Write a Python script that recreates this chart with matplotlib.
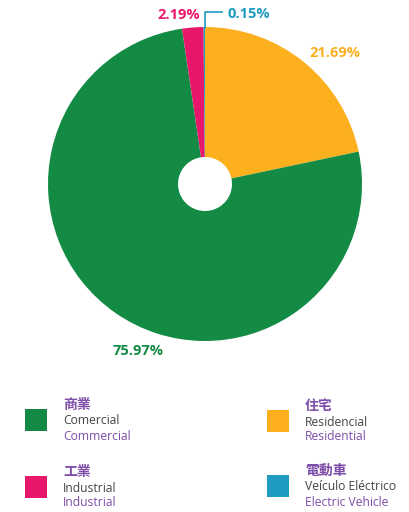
import matplotlib
matplotlib.use("Agg")
import matplotlib.pyplot as plt
from matplotlib.patches import Rectangle

# data (clockwise from 12 o'clock)
labels_zh = ["住宅", "商業", "工業", "電動車"]
labels_pt = ["Residencial", "Comercial", "Industrial", "Veículo Eléctrico"]
labels_en = ["Residential", "Commercial", "Industrial", "Electric Vehicle"]
shares = [21.69, 75.97, 2.19, 0.15]
colors = ["#FDB01E", "#138B45", "#E8176B", "#1D9BC1"]

purple = "#7D4DA8"
grey = "#454545"
plt.rcParams['font.family'] = ['Open Sans', 'Noto Sans CJK TC', 'DejaVu Sans']

H = 512
fig = plt.figure(figsize=(4.09, 5.12), dpi=100)
ax = fig.add_axes([0, 0, 1, 1])

cx, cy, r, hole = 205, H - 184, 157, 27
ax.pie(shares, colors=colors, startangle=90, counterclock=False,
       center=(cx, cy), radius=r, frame=True,
       wedgeprops=dict(width=r - hole, linewidth=0))
ax.set_xlim(0, 409)
ax.set_ylim(0, H)
ax.set_aspect('equal')
ax.axis('off')

# percentage labels
pct_pos = [(335, 53, 'center'), (138, 351, 'center'), (179, 15, 'center'), (227, 14, 'left')]
for (x, y, ha), v, c in zip(pct_pos, shares, colors):
    ax.text(x, H - y, f"{v:.2f}%", color=c, fontsize=10.5, fontweight='bold',
            ha=ha, va='center')
# leader line for the tiny slice
ax.plot([205, 205, 222], [H - 28, H - 12, H - 12], color=colors[3], lw=1.2)

# legend
legend_order = [1, 0, 2, 3]
slots = [(25, 409), (267, 410), (25, 476), (267, 475)]
for idx, (sx, sy) in zip(legend_order, slots):
    ax.add_patch(Rectangle((sx, H - sy - 22), 22, 22, color=colors[idx], lw=0))
    tx = sx + 38
    ty = sy - 4
    ax.text(tx, H - ty, labels_zh[idx], color=purple, fontsize=10, fontweight='bold',
            va='center', ha='left')
    ax.text(tx, H - (ty + 16), labels_pt[idx], color=grey, fontsize=8.7,
            va='center', ha='left')
    ax.text(tx, H - (ty + 31), labels_en[idx], color=purple, fontsize=8.7,
            va='center', ha='left')

fig.savefig("out.png", dpi=100)
